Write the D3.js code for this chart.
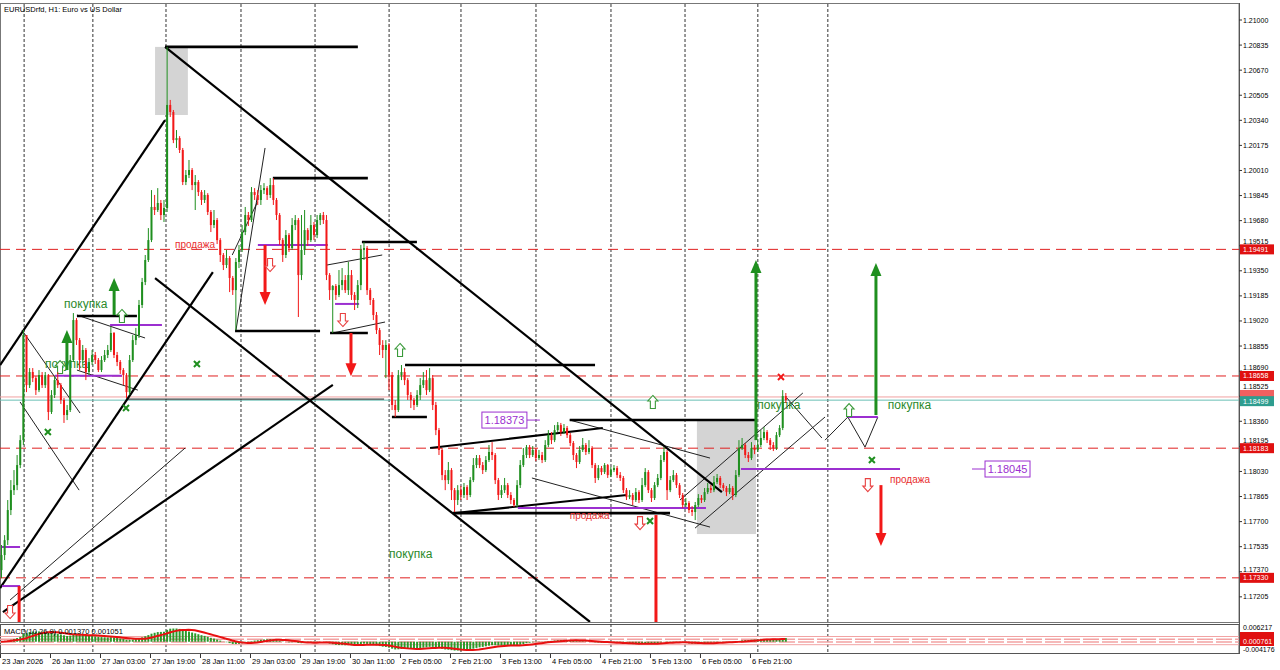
<!DOCTYPE html>
<html>
<head>
<meta charset="utf-8">
<script src="https://cdn.jsdelivr.net/npm/d3@7/dist/d3.min.js"></script>
<style>
body { margin: 0; background: #fff; }
svg { display: block; font-family: "Liberation Sans", Arial, sans-serif; }
</style>
</head>
<body>
<div id="chart"></div>
<script>
// EURUSDrfd H1, one value per bar (bar 0 = 23 Jan 2026 evening)
var open0 = 1.17381;
var closes = [
1.17480,1.17578,1.17776,1.17907,1.17940,1.18072,1.18236,1.18927,1.18598,1.18684,
1.18644,1.18565,1.18664,1.18598,1.18664,1.18421,1.18533,1.18631,1.18598,1.18500,
1.18401,1.18434,1.18763,1.19026,1.18894,1.18763,1.18829,1.18684,1.18750,1.18796,
1.18763,1.18697,1.18763,1.18796,1.18829,1.18941,1.18796,1.18750,1.18697,1.18664,
1.18552,1.18763,1.18894,1.18927,1.19125,1.19276,1.19421,1.19552,1.19770,1.19750,
1.19796,1.19717,1.19763,1.20441,1.20395,1.20210,1.20223,1.20145,1.19934,1.19980,
1.20013,1.19914,1.19934,1.19868,1.19816,1.19849,1.19737,1.19651,1.19684,1.19552,
1.19454,1.19388,1.19434,1.19303,1.19223,1.19408,1.19487,1.19605,1.19717,1.19684,
1.19868,1.19849,1.19816,1.19881,1.19894,1.19849,1.19914,1.19816,1.19717,1.19552,
1.19454,1.19585,1.19500,1.19651,1.19684,1.19322,1.19487,1.19618,1.19552,1.19651,
1.19585,1.19684,1.19717,1.19684,1.19322,1.19223,1.19250,1.19191,1.19256,1.19289,
1.19223,1.19322,1.19191,1.19158,1.19256,1.19487,1.19500,1.19223,1.19158,1.19059,
1.18960,1.18862,1.18829,1.18862,1.18664,1.18467,1.18434,1.18664,1.18684,1.18631,
1.18533,1.18500,1.18467,1.18533,1.18598,1.18631,1.18565,1.18644,1.18467,1.18302,
1.18171,1.18006,1.17973,1.18039,1.17907,1.17842,1.17907,1.17875,1.17927,1.17875,
1.17973,1.18072,1.18118,1.18072,1.18039,1.18105,1.18158,1.18138,1.17973,1.17875,
1.17907,1.17940,1.17875,1.17842,1.17809,1.17940,1.18072,1.18138,1.18190,1.18138,
1.18171,1.18118,1.18138,1.18105,1.18204,1.18269,1.18236,1.18302,1.18335,1.18289,
1.18316,1.18269,1.18217,1.18138,1.18092,1.18171,1.18204,1.18158,1.18184,1.18072,
1.17987,1.18052,1.18026,1.18072,1.18006,1.18039,1.18052,1.18006,1.17987,1.17907,
1.17861,1.17875,1.17842,1.17894,1.17842,1.17940,1.18026,1.17907,1.17855,1.17940,
1.17987,1.18105,1.18158,1.17907,1.17973,1.18006,1.17940,1.17875,1.17809,1.17822,
1.17776,1.17763,1.17809,1.17855,1.17842,1.17894,1.17921,1.17907,1.17960,1.17987,
1.17940,1.17921,1.17894,1.17921,1.17875,1.18006,1.18184,1.18204,1.18138,1.18118,
1.18184,1.18171,1.18204,1.18250,1.18289,1.18236,1.18204,1.18184,1.18269,1.18316,
1.18526,1.18499
];
var highs = [
1.17546,1.17611,1.17842,1.17973,1.18039,1.18138,1.18269,1.18960,1.18927,1.18710,
1.18710,1.18657,1.18697,1.18684,1.18684,1.18671,1.18565,1.18657,1.18684,1.18612,
1.18513,1.18467,1.18796,1.19072,1.19039,1.18908,1.18862,1.18842,1.18776,1.18829,
1.18816,1.18776,1.18789,1.18829,1.18862,1.18980,1.18947,1.18816,1.18763,1.18710,
1.18677,1.18796,1.18927,1.18974,1.19158,1.19303,1.19454,1.19631,1.19881,1.19849,
1.19894,1.19816,1.19816,1.20823,1.20474,1.20408,1.20276,1.20236,1.20158,1.20013,
1.20079,1.20026,1.19980,1.19947,1.19881,1.19881,1.19861,1.19750,1.19750,1.19697,
1.19565,1.19467,1.19487,1.19447,1.19316,1.19434,1.19520,1.19651,1.19770,1.19737,
1.19901,1.19894,1.19881,1.19914,1.19927,1.19907,1.19960,1.19960,1.19829,1.19730,
1.19565,1.19618,1.19598,1.19697,1.19717,1.19697,1.19717,1.19750,1.19631,1.19717,
1.19671,1.19717,1.19730,1.19737,1.19717,1.19335,1.19256,1.19263,1.19355,1.19368,
1.19322,1.19408,1.19355,1.19210,1.19289,1.19520,1.19539,1.19513,1.19237,1.19171,
1.19079,1.18974,1.18894,1.18894,1.18875,1.18684,1.18500,1.18697,1.18730,1.18710,
1.18644,1.18552,1.18513,1.18565,1.18644,1.18684,1.18697,1.18710,1.18664,1.18487,
1.18316,1.18184,1.18039,1.18092,1.18052,1.17921,1.17940,1.17934,1.17954,1.17940,
1.17993,1.18118,1.18138,1.18138,1.18092,1.18131,1.18204,1.18223,1.18151,1.17987,
1.17940,1.17987,1.17954,1.17894,1.17855,1.17973,1.18105,1.18184,1.18204,1.18204,
1.18197,1.18184,1.18171,1.18158,1.18236,1.18302,1.18289,1.18335,1.18355,1.18349,
1.18342,1.18329,1.18283,1.18230,1.18151,1.18197,1.18250,1.18217,1.18236,1.18197,
1.18085,1.18072,1.18066,1.18085,1.18079,1.18059,1.18072,1.18066,1.18026,1.18000,
1.17921,1.17907,1.17888,1.17921,1.17907,1.17987,1.18052,1.18039,1.17921,1.17960,
1.18013,1.18138,1.18190,1.18171,1.18000,1.18039,1.18020,1.17954,1.17888,1.17855,
1.17835,1.17802,1.17829,1.17881,1.17875,1.17921,1.17954,1.17940,1.18000,1.18013,
1.18000,1.17954,1.17934,1.17947,1.17934,1.18039,1.18236,1.18250,1.18217,1.18158,
1.18223,1.18204,1.18236,1.18302,1.18322,1.18302,1.18250,1.18223,1.18289,1.18335,
1.18565,1.18546
];
var lows = [
1.17328,1.17447,1.17546,1.17743,1.17875,1.17907,1.18052,1.18204,1.18552,1.18579,
1.18618,1.18533,1.18552,1.18579,1.18579,1.18368,1.18408,1.18513,1.18579,1.18474,
1.18349,1.18368,1.18421,1.18750,1.18862,1.18697,1.18730,1.18631,1.18664,1.18730,
1.18737,1.18684,1.18684,1.18750,1.18776,1.18816,1.18776,1.18723,1.18671,1.18598,
1.18513,1.18533,1.18750,1.18862,1.18908,1.19105,1.19256,1.19408,1.19539,1.19717,
1.19737,1.19684,1.19671,1.19737,1.20362,1.20190,1.20158,1.20125,1.19914,1.19914,
1.19960,1.19881,1.19750,1.19842,1.19783,1.19796,1.19717,1.19605,1.19631,1.19526,
1.19408,1.19355,1.19368,1.19210,1.19191,1.18960,1.19368,1.19474,1.19585,1.19645,
1.19671,1.19816,1.19783,1.19783,1.19855,1.19816,1.19829,1.19783,1.19684,1.19520,
1.19408,1.19434,1.19474,1.19487,1.19618,1.19046,1.19289,1.19454,1.19513,1.19539,
1.19552,1.19565,1.19651,1.19658,1.19289,1.19158,1.18941,1.19158,1.19177,1.19223,
1.19204,1.19191,1.19158,1.19092,1.19105,1.19223,1.19421,1.19191,1.19125,1.19026,
1.18934,1.18796,1.18776,1.18644,1.18565,1.18434,1.18388,1.18421,1.18631,1.18598,
1.18500,1.18447,1.18434,1.18454,1.18500,1.18579,1.18533,1.18552,1.18434,1.18269,
1.18138,1.17973,1.17907,1.17947,1.17842,1.17763,1.17809,1.17842,1.17855,1.17842,
1.17861,1.17960,1.18052,1.18052,1.18013,1.18026,1.18092,1.18105,1.17947,1.17842,
1.17855,1.17888,1.17855,1.17815,1.17796,1.17796,1.17921,1.18059,1.18118,1.18118,
1.18125,1.18098,1.18105,1.18085,1.18092,1.18190,1.18210,1.18223,1.18289,1.18263,
1.18276,1.18250,1.18197,1.18105,1.18052,1.18079,1.18158,1.18138,1.18144,1.18052,
1.17954,1.17973,1.18006,1.18013,1.17987,1.17993,1.18026,1.17987,1.17967,1.17888,
1.17842,1.17848,1.17809,1.17829,1.17822,1.17829,1.17927,1.17888,1.17829,1.17842,
1.17927,1.17973,1.18092,1.17842,1.17894,1.17960,1.17921,1.17855,1.17789,1.17796,
1.17756,1.17737,1.17710,1.17796,1.17822,1.17829,1.17881,1.17888,1.17894,1.17947,
1.17921,1.17901,1.17868,1.17881,1.17842,1.17861,1.17993,1.18171,1.18118,1.18092,
1.18105,1.18144,1.18158,1.18190,1.18236,1.18217,1.18171,1.18164,1.18171,1.18256,
1.18302,1.18480
];

var priceTicks = ["1.21000","1.20835","1.20670","1.20505","1.20340","1.20175","1.20010","1.19845",
  "1.19680","1.19515","1.19350","1.19185","1.19020","1.18855","1.18690","1.18525","1.18360",
  "1.18195","1.18030","1.17865","1.17700","1.17535","1.17370","1.17205"];
var timeBars = [0,16,32,48,64,80,96,112,128,144,160,176,192,208,224,240];
var timeLabels = ["23 Jan 2026","26 Jan 11:00","27 Jan 03:00","27 Jan 19:00","28 Jan 11:00",
  "29 Jan 03:00","29 Jan 19:00","30 Jan 11:00","2 Feb 05:00","2 Feb 21:00","3 Feb 13:00",
  "4 Feb 05:00","4 Feb 21:00","5 Feb 13:00","6 Feb 05:00","6 Feb 21:00"];
var gridBars = [7.4,29.4,52.8,76.8,100.5,124.2,147.2,171.2,195.2,218.9,242.2,264.6];

// horizontal levels
var redLevels = [1.19491, 1.18658, 1.18183, 1.17330];
var bidPrice = 1.18499, askPrice = 1.18520;

// drawn objects: [bar1, price1, bar2, price2]
var thickH = [[52.5,1.20823,114.2,1.20823],[87,1.19960,117.4,1.19960],[115.5,1.19539,133.1,1.19539],
  [74.9,1.18954,102.1,1.18954],[105.3,1.18941,117.4,1.18941],[24.3,1.19053,43.5,1.19053],
  [129.3,1.18730,190.1,1.18730],[125.1,1.18388,136.3,1.18388],[182,1.18368,241.9,1.18368],
  [144.6,1.17756,214.1,1.17756]];
var thickD = [[52.5,1.20823,230.7,1.17894],[49.3,1.19302,188.5,1.17040],[-0.3,1.18730,52.5,1.20342],
  [-0.3,1.17263,67.8,1.19342],[0.6,1.17105,106.2,1.18599],[137.3,1.18184,192.6,1.18316],
  [145.3,1.17756,200.3,1.17875]];
var thinLines = [[6.7,1.18960,25.3,1.18414],[6.1,1.18487,25,1.17907],[24.3,1.19059,46.1,1.18908],
  [24.3,1.18697,43.8,1.18565],[75.2,1.18960,84.5,1.20158],[74,1.19454,82,1.19800],
  [104.3,1.19388,122,1.19454],[106.2,1.18941,122.9,1.19013],[182,1.18368,226.9,1.18118],
  [169.9,1.17987,226.9,1.17664],[217.3,1.17842,256.6,1.18546],[222.1,1.17657,263.7,1.18388],
  [251.5,1.18513,262.7,1.18250],[263.7,1.18236,271,1.18388],[271,1.18388,276.5,1.18190],
  [276.5,1.18190,280.6,1.18388],[2.9,1.17184,58.9,1.18184],[40,1.18506,122.6,1.18506]];
var purpleH = [[34.9,1.18993,51.5],[17.3,1.18660,38.7],[82.2,1.19520,104.6],[106.9,1.19132,114.6],
  [165.4,1.17789,225.6],[236.8,1.18046,287.7],[271,1.18388,280.6],[0.3,1.17533,6.1],[0.3,1.17276,6.1]];
var greyBoxes = [[49.3,1.20823,59.8,1.20375],[222.7,1.18368,241.6,1.17618]];

// arrows: [bar, from, to]
var buyArrows = [[21.1,1.18697,1.18960],[36.2,1.19059,1.19303],[241.6,1.18236,1.19421],[280,1.18401,1.19401]];
var sellArrows = [[84.5,1.19520,1.19125],[112,1.18941,1.18657],[281.6,1.17940,1.17540],
  [209.6,1.17743,1.16900],[5.8,1.17276,1.16900]];
var upMarks = [[38.7,1.19053],[18.9,1.18717],[127.7,1.18829],[208.6,1.18487],[271.4,1.18434]];
var downMarks = [[2.9,1.17105],[86.1,1.19388],[109.4,1.19026],[204.5,1.17690],[277.4,1.17940]];
var greenX = [[15,1.18289],[40,1.18447],[62.7,1.18737],[207.7,1.17704],[278.7,1.18105]];
var redX = [[249.6,1.18651]];
var buyText = [[20.2,1.19105],[14.1,1.18710],[124.2,1.17460],[242,1.18441],[283.8,1.18441]];
var sellText = [[55.7,1.19500],[182,1.17717],[284.5,1.17954]];
// [bar, price, label, side of the leader line]
var priceBoxes = [[153.9,1.18368,"1.18373",1],[314.9,1.18046,"1.18045",-1]];

// MACD(10,26,9) scale limits
var macdTop = 0.006217, macdBottom = -0.004176;

var W = 1280, H = 670, right = 1239;
var svg = d3.select("#chart").append("svg").attr("width", W).attr("height", H);

var x = d3.scaleLinear().domain([0, 396.5]).range([1, 1240]);
var y = d3.scaleLinear().domain([1.21, 1.17]).range([20, 628]);
var my = d3.scaleLinear().domain([macdBottom, macdTop]).range([653, 625]);

var defs = svg.append("defs");
defs.append("clipPath").attr("id", "clipMain").append("rect")
  .attr("x", 0).attr("y", 4).attr("width", right).attr("height", 618);
defs.append("clipPath").attr("id", "clipMacd").append("rect")
  .attr("x", 0).attr("y", 625).attr("width", right).attr("height", 28);

var GREEN = "#1f8f1f", RED = "#f21818", PURPLE = "#9b2fd0";

// frame
svg.append("rect").attr("x", 0.5).attr("y", 3.5).attr("width", right - 0.5).attr("height", 619)
  .attr("fill", "none").attr("stroke", "#777");
svg.append("rect").attr("x", 0.5).attr("y", 624.5).attr("width", right - 0.5).attr("height", 29)
  .attr("fill", "none").attr("stroke", "#555");

// grid
svg.append("g").selectAll("line").data(gridBars).enter().append("line")
  .attr("x1", d => x(d)).attr("x2", d => x(d)).attr("y1", 4).attr("y2", 653)
  .attr("stroke", "#333").attr("stroke-dasharray", "3,2").attr("stroke-width", 1);

var main = svg.append("g").attr("clip-path", "url(#clipMain)");

main.selectAll(".gbox").data(greyBoxes).enter().append("rect")
  .attr("x", d => x(d[0])).attr("y", d => y(d[1]))
  .attr("width", d => x(d[2]) - x(d[0])).attr("height", d => y(d[3]) - y(d[1]))
  .attr("fill", "#d4d4d4");

main.selectAll(".lvl").data(redLevels).enter().append("line")
  .attr("x1", 0).attr("x2", right).attr("y1", d => y(d)).attr("y2", d => y(d))
  .attr("stroke", "#e02020").attr("stroke-dasharray", "10,6");
main.append("line").attr("x1", 0).attr("x2", right).attr("y1", y(askPrice)).attr("y2", y(askPrice))
  .attr("stroke", "#f0a0a0");
main.append("line").attr("x1", 0).attr("x2", right).attr("y1", y(bidPrice)).attr("y2", y(bidPrice))
  .attr("stroke", "#6bbfb5");

function seg(sel, data, cls, w, col) {
  sel.selectAll("." + cls).data(data).enter().append("line").attr("class", cls)
    .attr("x1", d => x(d[0])).attr("y1", d => y(d[1]))
    .attr("x2", d => x(d[2])).attr("y2", d => y(d[3]))
    .attr("stroke", col).attr("stroke-width", w);
}
seg(main, thinLines, "thin", 1, "#222");
seg(main, thickH, "thh", 2.6, "#000");
seg(main, thickD, "thd", 2.2, "#000");

main.selectAll(".pl").data(purpleH).enter().append("line")
  .attr("x1", d => x(d[0])).attr("x2", d => x(d[2])).attr("y1", d => y(d[1])).attr("y2", d => y(d[1]))
  .attr("stroke", PURPLE).attr("stroke-width", 2);

// texts
main.selectAll(".buyt").data(buyText).enter().append("text")
  .attr("x", d => x(d[0])).attr("y", d => y(d[1])).attr("font-size", "12px")
  .attr("fill", "#2b8a2b").text("покупка");
main.selectAll(".sellt").data(sellText).enter().append("text")
  .attr("x", d => x(d[0])).attr("y", d => y(d[1])).attr("font-size", "10px")
  .attr("fill", "#e83030").text("продажа");

// solid arrows
function arrow(d, col) {
  var xx = x(d[0]), y1 = y(d[1]), y2 = y(d[2]), dir = y2 < y1 ? 1 : -1;
  main.append("line").attr("x1", xx).attr("x2", xx).attr("y1", y1).attr("y2", y2 + dir * 12)
    .attr("stroke", col).attr("stroke-width", 3);
  main.append("path").attr("d", "M" + xx + "," + y2 + "L" + (xx - 5.5) + "," + (y2 + dir * 13) +
    "L" + (xx + 5.5) + "," + (y2 + dir * 13) + "Z").attr("fill", col);
}
buyArrows.forEach(d => arrow(d, GREEN));
sellArrows.forEach(d => arrow(d, RED));

// hollow arrows
function hollow(d, up, col) {
  var cx = x(d[0]), cy = y(d[1]), s = up ? 1 : -1;
  var pts = [[0, -6.5], [5, -1], [2.5, -1], [2.5, 6.5], [-2.5, 6.5], [-2.5, -1], [-5, -1]];
  main.append("path").attr("d", "M" + pts.map(p => (cx + p[0]) + "," + (cy + s * p[1])).join("L") + "Z")
    .attr("fill", "#fff").attr("stroke", col).attr("stroke-width", 1.1);
}
upMarks.forEach(d => hollow(d, true, "#3a9a3a"));
downMarks.forEach(d => hollow(d, false, "#e84040"));

function cross(d, col) {
  var cx = x(d[0]), cy = y(d[1]);
  main.append("path").attr("d", "M" + (cx - 3) + "," + (cy - 3) + "L" + (cx + 3) + "," + (cy + 3) +
    "M" + (cx + 3) + "," + (cy - 3) + "L" + (cx - 3) + "," + (cy + 3))
    .attr("stroke", col).attr("stroke-width", 2);
}
greenX.forEach(d => cross(d, GREEN));
redX.forEach(d => cross(d, RED));

// price boxes with a short leader line
priceBoxes.forEach(function(d) {
  var bx = x(d[0]), by = y(d[1]);
  var lx1 = d[3] > 0 ? bx + 45 : bx - 13, lx2 = d[3] > 0 ? bx + 58 : bx;
  main.append("line").attr("x1", lx1).attr("x2", lx2).attr("y1", by).attr("y2", by)
    .attr("stroke", PURPLE);
  main.append("rect").attr("x", bx).attr("y", by - 8).attr("width", 45).attr("height", 16)
    .attr("fill", "#fff").attr("stroke", PURPLE);
  main.append("text").attr("x", bx + 22.5).attr("y", by + 4).attr("text-anchor", "middle")
    .attr("font-size", "11px").attr("fill", PURPLE).text(d[2]);
});

// candles
var bars = closes.map(function(c, i) {
  var o = i === 0 ? open0 : closes[i - 1];
  return {i: i, o: o, c: c, h: Math.max(highs[i], o, c), l: Math.min(lows[i], o, c)};
});
var cg = main.append("g");
cg.selectAll(".wick").data(bars).enter().append("line")
  .attr("x1", d => x(d.i) + 0.5).attr("x2", d => x(d.i) + 0.5)
  .attr("y1", d => y(d.h)).attr("y2", d => y(d.l))
  .attr("stroke", d => d.c >= d.o ? GREEN : RED).attr("stroke-width", 1);
cg.selectAll(".body").data(bars).enter().append("rect")
  .attr("x", d => x(d.i) - 0.5).attr("width", 2)
  .attr("y", d => y(Math.max(d.o, d.c)))
  .attr("height", d => Math.max(1, Math.abs(y(d.o) - y(d.c))))
  .attr("fill", d => d.c >= d.o ? GREEN : RED);

// MACD(10,26,9) from the closes
function ema(arr, n) {
  var k = 2 / (n + 1), out = [], prev = arr[0];
  arr.forEach(function(v, i) { prev = i === 0 ? v : v * k + prev * (1 - k); out.push(prev); });
  return out;
}
var e10 = ema(closes, 10), e26 = ema(closes, 26);
var macd = closes.map((c, i) => e10[i] - e26[i]);
var signal = macd.map(function(v, i) {
  return d3.mean(macd.slice(Math.max(0, i - 8), i + 1));
});
var mg = svg.append("g").attr("clip-path", "url(#clipMacd)");
[636.5, 644.7].forEach(function(v) {
  mg.append("line").attr("x1", 0).attr("x2", right).attr("y1", v).attr("y2", v).attr("stroke", "#f2a3a3");
});
[639.3, 642].forEach(function(v) {
  mg.append("line").attr("x1", 0).attr("x2", right).attr("y1", v).attr("y2", v)
    .attr("stroke", "#f2a3a3").attr("stroke-width", 1.6).attr("stroke-dasharray", "16,3");
});
mg.selectAll(".hist").data(macd).enter().append("line")
  .attr("x1", (d, i) => x(i) + 0.5).attr("x2", (d, i) => x(i) + 0.5)
  .attr("y1", my(0)).attr("y2", d => my(d))
  .attr("stroke", "#2a9a2a").attr("stroke-width", 2);
mg.append("path").datum(signal)
  .attr("d", d3.line().x((d, i) => x(i)).y(d => my(d)))
  .attr("fill", "none").attr("stroke", "#e81010").attr("stroke-width", 2);
svg.append("text").attr("x", 4).attr("y", 634).attr("font-size", "7.5px")
  .text("MACD(10,26,9) 0.001370 0.001051");

// title
svg.append("text").attr("x", 4).attr("y", 12).attr("font-size", "7.5px")
  .text("EURUSDrfd, H1:  Euro vs US Dollar");

// price axis; tags sit over the scale, so a tick label under a tag is lifted above it
var tags = [[y(1.19491), "1.19491", "#e01010"], [y(1.18658), "1.18658", "#e01010"],
  [y(1.18183), "1.18183", "#e01010"], [y(1.17330), "1.17330", "#e01010"],
  [y(askPrice) - 2, "", "#f06060"], [y(bidPrice) + 1, "1.18499", "#2e9d8f"]];
function labelY(py) {
  var base = py + 2.5;
  tags.forEach(function(t) {
    if (base > t[0] - 5 && base - 6 < t[0] + 5) base = Math.min(base, t[0] - 5.5);
  });
  return base;
}
var ax = svg.append("g").attr("font-size", "7px");
ax.append("line").attr("x1", right + 0.5).attr("x2", right + 0.5).attr("y1", 3).attr("y2", 654)
  .attr("stroke", "#555");
ax.selectAll(".tk").data(priceTicks).enter().append("line")
  .attr("x1", right).attr("x2", right + 3).attr("y1", d => y(+d)).attr("y2", d => y(+d)).attr("stroke", "#333");
ax.selectAll(".tl").data(priceTicks).enter().append("text")
  .attr("x", right + 4).attr("y", d => labelY(y(+d))).text(d => d);

function tag(py, txt, bg) {
  ax.append("rect").attr("x", right + 1).attr("y", py - 5).attr("width", 34).attr("height", 10).attr("fill", bg);
  if (txt) ax.append("text").attr("x", right + 4).attr("y", py + 2.5).attr("fill", "#fff").text(txt);
}
tags.forEach(t => tag(t[0], t[1], t[2]));

// macd axis
ax.append("text").attr("x", right + 4).attr("y", 630).text(macdTop.toFixed(6));
tag(637, "", "#e01010");
tag(641, "0.000761", "#e01010");
ax.append("text").attr("x", right + 4).attr("y", 651.5).text(macdBottom.toFixed(6));

// time axis
var tx = svg.append("g").attr("font-size", "7.5px");
tx.selectAll(".tt").data(timeBars).enter().append("line")
  .attr("x1", d => x(d) - 0.5).attr("x2", d => x(d) - 0.5).attr("y1", 654).attr("y2", 658).attr("stroke", "#333");
tx.selectAll(".tlab").data(timeLabels).enter().append("text")
  .attr("x", (d, i) => i === 0 ? 2 : x(timeBars[i]) + 1).attr("y", 664).text(d => d);
</script>
</body>
</html>
